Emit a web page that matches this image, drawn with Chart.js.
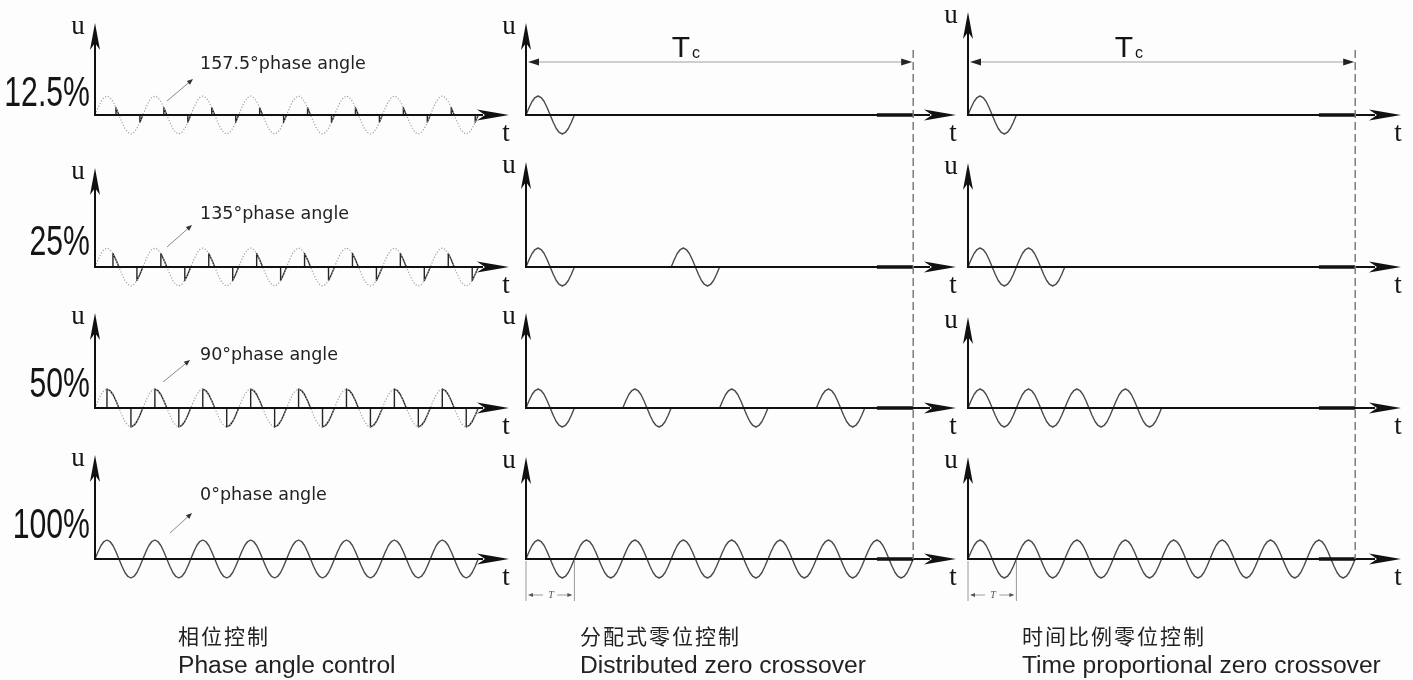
<!DOCTYPE html>
<html>
<head>
<meta charset="utf-8">
<title>Phase angle control vs zero crossover control</title>
<script src="https://cdn.jsdelivr.net/npm/chart.js@4.4.1/dist/chart.umd.min.js"></script>
<style>
  body { margin: 0; background: #fdfdfd; }
  #wrap { position: relative; width: 1413px; height: 680px; overflow: hidden; }
  #diagram { position: absolute; left: 0; top: 0; }
  .txt { position: absolute; white-space: nowrap; line-height: 1; color: #151515; }
</style>
</head>
<body>
<div id="wrap"><canvas id="diagram" width="1413" height="680"></canvas></div>
<script>
// ---- data ----
const dutyLabels = ['12.5%', '25%', '50%', '100%'];
const firingAngles = [157.5, 135, 90, 0];
const phaseTexts = ['157.5°phase angle', '135°phase angle', '90°phase angle', '0°phase angle'];
const cycleCount = 8;
// one mains cycle, sampled every 22.5 degrees
const cycleAngles = [0, 22.5, 45, 67.5, 90, 112.5, 135, 157.5, 180, 202.5, 225, 247.5, 270, 292.5, 315, 337.5, 360];
const cycleShape = [0, 0.38, 0.71, 0.92, 1, 0.92, 0.71, 0.38, 0, -0.38, -0.71, -0.92, -1, -0.92, -0.71, -0.38, 0];
// which of the 8 cycles are switched on
const distributedOn = [
  [1, 0, 0, 0, 0, 0, 0, 0],
  [1, 0, 0, 1, 0, 0, 0, 0],
  [1, 0, 1, 0, 1, 0, 1, 0],
  [1, 1, 1, 1, 1, 1, 1, 1]
];
const proportionalOn = [
  [1, 0, 0, 0, 0, 0, 0, 0],
  [1, 1, 0, 0, 0, 0, 0, 0],
  [1, 1, 1, 1, 0, 0, 0, 0],
  [1, 1, 1, 1, 1, 1, 1, 1]
];
const captionsZh = ['相位控制', '分配式零位控制', '时间比例零位控制'];
const captionsEn = ['Phase angle control', 'Distributed zero crossover', 'Time proportional zero crossover'];

// ---- layout ----
const W = 1413, H = 680;
const colOrigin = [95, 526, 968];
const colPeriod = [47.9, 48.4, 48.4];
const colArrowTip = [509, 956, 1401];
const rowOrigin = [115, 267, 408, 559];
const ampPx = 19;
const arrowTop = [[23, 23, 12], [168, 162, 163], [313, 313, 317], [455, 457, 457]];
const labelY = [92, 241, 383, 524];
const phaseTextY = [64, 214, 355, 495];
const phaseArrows = [[167, 101, 193, 79], [167, 247, 192, 225], [163, 382, 190, 360], [170, 533, 192, 513]];
const tcY = 62;
const captionX = [178, 580, 1022];

const wrap = document.getElementById('wrap');

function onCycles(pattern) {
  const pts = [];
  pattern.forEach((on, c) => {
    if (!on) { pts.push({x: c + 0.5, y: null}); return; }
    cycleAngles.forEach((a, i) => pts.push({x: c + a / 360, y: cycleShape[i]}));
  });
  return pts;
}

function firedCycles(alpha) {
  const pts = [];
  const i0 = cycleAngles.indexOf(alpha);
  for (let c = 0; c < cycleCount; c++) {
    [0, 8].forEach(h => {
      const s = h + i0;
      pts.push({x: c + cycleAngles[s] / 360, y: 0});
      for (let i = s; i <= h + 8; i++) pts.push({x: c + cycleAngles[i] / 360, y: cycleShape[i]});
      pts.push({x: c + cycleAngles[h + 8] / 360, y: null});
    });
  }
  return pts;
}

const full = new Array(cycleCount).fill(1);
const datasets = [];
const waveStyle = {pointRadius: 0, tension: 0, fill: false, spanGaps: false, borderJoinStyle: 'round'};

for (let r = 0; r < 4; r++) {
  if (firingAngles[r] > 0) {
    datasets.push(Object.assign({
      data: onCycles(full), xAxisID: 'x0', yAxisID: 'y' + r,
      borderColor: '#a0a0a0', borderWidth: 1.2, borderDash: [1.2, 1.8]
    }, waveStyle));
  }
  datasets.push(Object.assign({
    data: firedCycles(firingAngles[r]), xAxisID: 'x0', yAxisID: 'y' + r,
    borderColor: firingAngles[r] > 0 ? '#262626' : '#4a4a4a', borderWidth: 1.4
  }, waveStyle));
  datasets.push(Object.assign({
    data: onCycles(distributedOn[r]), xAxisID: 'x1', yAxisID: 'y' + r,
    borderColor: '#4a4a4a', borderWidth: 1.4
  }, waveStyle));
  datasets.push(Object.assign({
    data: onCycles(proportionalOn[r]), xAxisID: 'x2', yAxisID: 'y' + r,
    borderColor: '#4a4a4a', borderWidth: 1.4
  }, waveStyle));
}

const scales = {};
for (let c = 0; c < 3; c++) {
  scales['x' + c] = {type: 'linear', display: false, min: -colOrigin[c] / colPeriod[c], max: (W - colOrigin[c]) / colPeriod[c]};
}
for (let r = 0; r < 4; r++) {
  scales['y' + r] = {type: 'linear', display: false, min: -(H - rowOrigin[r]) / ampPx, max: rowOrigin[r] / ampPx};
}

function dart(ctx, tx, ty, dx, dy, len, half, notch) {
  const bx = tx - dx * len, by = ty - dy * len;
  const nx = -dy, ny = dx;
  ctx.beginPath();
  ctx.moveTo(tx, ty);
  ctx.lineTo(bx + nx * half, by + ny * half);
  ctx.lineTo(tx - dx * (len - notch), ty - dy * (len - notch));
  ctx.lineTo(bx - nx * half, by - ny * half);
  ctx.closePath();
  ctx.fill();
}

const diagramAxes = {
  id: 'diagramAxes',
  afterDatasetsDraw(chart) {
    const ctx = chart.ctx;
    ctx.save();
    ctx.fillStyle = '#111';
    ctx.strokeStyle = '#111';
    for (let c = 0; c < 3; c++) {
      const xs = chart.scales['x' + c];
      const ox = xs.getPixelForValue(0);
      for (let r = 0; r < 4; r++) {
        const oy = chart.scales['y' + r].getPixelForValue(0);
        ctx.lineWidth = 2;
        ctx.beginPath();
        ctx.moveTo(ox, oy);
        ctx.lineTo(colArrowTip[c] - 26, oy);
        ctx.moveTo(ox, oy + 1);
        ctx.lineTo(ox, arrowTop[r][c] + 20);
        ctx.stroke();
        dart(ctx, colArrowTip[c], oy, 1, 0, 32, 5.5, 8);
        dart(ctx, ox, arrowTop[r][c], 0, -1, 27, 5, 7);
        if (c > 0) {
          ctx.lineWidth = 3.6;
          ctx.beginPath();
          ctx.moveTo(xs.getPixelForValue(7.25), oy);
          ctx.lineTo(xs.getPixelForValue(cycleCount), oy);
          ctx.stroke();
        }
      }
      if (c > 0) {
        const ex = xs.getPixelForValue(cycleCount);
        const bottom = chart.scales.y3.getPixelForValue(0);
        ctx.save();
        ctx.strokeStyle = '#7c7c7c';
        ctx.lineWidth = 1.5;
        ctx.setLineDash([8, 4]);
        ctx.beginPath();
        ctx.moveTo(ex, 50);
        ctx.lineTo(ex, bottom);
        ctx.stroke();
        ctx.restore();
        // Tc dimension line
        ctx.save();
        ctx.strokeStyle = '#cfcfcf';
        ctx.lineWidth = 2;
        ctx.beginPath();
        ctx.moveTo(ox + 8, tcY);
        ctx.lineTo(ex - 8, tcY);
        ctx.stroke();
        ctx.fillStyle = '#222';
        dart(ctx, ox + 2, tcY, -1, 0, 11, 3.5, 0);
        dart(ctx, ex - 1, tcY, 1, 0, 11, 3.5, 0);
        // T marker under the first cycle
        const x1 = xs.getPixelForValue(1);
        const by = chart.scales.y3.getPixelForValue(0);
        ctx.strokeStyle = '#9a9a9a';
        ctx.lineWidth = 1;
        ctx.beginPath();
        ctx.moveTo(ox, by + 2); ctx.lineTo(ox, by + 42);
        ctx.moveTo(x1, by + 2); ctx.lineTo(x1, by + 42);
        ctx.moveTo(ox + 4, by + 36); ctx.lineTo(ox + 17, by + 36);
        ctx.moveTo(x1 - 17, by + 36); ctx.lineTo(x1 - 4, by + 36);
        ctx.stroke();
        ctx.fillStyle = '#555';
        dart(ctx, ox + 2, by + 36, -1, 0, 5, 2, 0);
        dart(ctx, x1 - 2, by + 36, 1, 0, 5, 2, 0);
        ctx.restore();
      }
    }
    // pointer arrows of the phase angle notes
    ctx.strokeStyle = '#8a8a8a';
    ctx.fillStyle = '#333';
    ctx.lineWidth = 1;
    phaseArrows.forEach(a => {
      const len = Math.hypot(a[2] - a[0], a[3] - a[1]);
      const dx = (a[2] - a[0]) / len, dy = (a[3] - a[1]) / len;
      ctx.beginPath();
      ctx.moveTo(a[0], a[1]);
      ctx.lineTo(a[2] - dx * 4, a[3] - dy * 4);
      ctx.stroke();
      dart(ctx, a[2], a[3], dx, dy, 6, 2.5, 0);
    });
    ctx.restore();
  }
};

new Chart(document.getElementById('diagram').getContext('2d'), {
  type: 'line',
  data: {datasets: datasets},
  options: {
    responsive: false,
    animation: false,
    events: [],
    layout: {padding: 0},
    plugins: {legend: {display: false}, tooltip: {enabled: false}},
    scales: scales
  },
  plugins: [diagramAxes]
});

// ---- text ----
function addText(str, x, y, family, size, align, style) {
  const d = document.createElement('div');
  d.className = 'txt';
  d.textContent = str;
  d.style.left = x + 'px';
  d.style.top = y + 'px';
  d.style.fontFamily = family;
  d.style.fontSize = size + 'px';
  const tx = align === 'center' ? '-50%' : align === 'right' ? '-100%' : '0';
  d.style.transform = 'translate(' + tx + ', -50%)';
  if (style) Object.assign(d.style, style);
  wrap.appendChild(d);
  return d;
}

const serif = '"Liberation Serif", "DejaVu Serif", serif';
const sans = '"Liberation Sans", Arial, sans-serif';
for (let r = 0; r < 4; r++) {
  const lbl = addText(dutyLabels[r], 90, labelY[r], sans, 42, 'right');
  lbl.style.transformOrigin = 'right center';
  lbl.style.transform = 'translate(-100%, -50%) scaleX(0.72)';
  addText(phaseTexts[r], 200, phaseTextY[r], '"DejaVu Sans", sans-serif', 17.5, 'left', {color: '#222'});
  for (let c = 0; c < 3; c++) {
    addText('u', colOrigin[c] - 17, arrowTop[r][c] + 2, serif, 27, 'center');
    addText('t', colArrowTip[c] - 3, rowOrigin[r] + 17, serif, 27, 'center');
  }
}
[681, 1124].forEach(x => {
  addText('T', x, 47, sans, 30, 'center');
  addText('c', x + 15, 53, sans, 16, 'center');
});
addText('T', 551, 595, serif, 10, 'center', {fontStyle: 'italic', color: '#555'});
addText('T', 993, 595, serif, 10, 'center', {fontStyle: 'italic', color: '#555'});
for (let c = 0; c < 3; c++) {
  addText(captionsZh[c], captionX[c], 635, '"Noto Sans CJK SC", sans-serif', 21, 'left', {color: '#222', letterSpacing: '2px'});
  const en = addText(captionsEn[c], captionX[c], 665, sans, 23, 'left', {color: '#222'});
  en.style.transformOrigin = 'left center';
  en.style.transform = 'translate(0, -50%) scaleX(1.07)';
}
</script>
</body>
</html>
